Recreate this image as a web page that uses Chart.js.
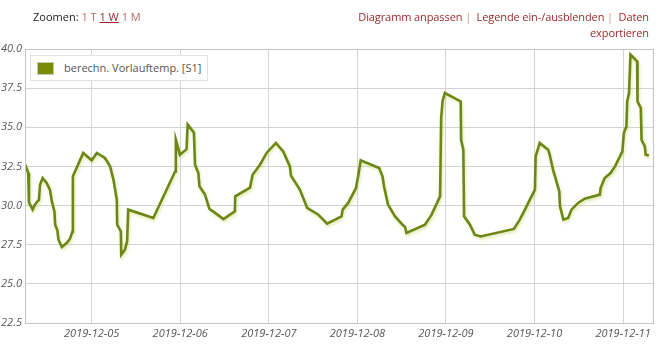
<!DOCTYPE html>
<html>
<head>
<meta charset="utf-8">
<script src="https://cdn.jsdelivr.net/npm/chart.js@4"></script>
<style>
    body { margin: 0; width: 668px; height: 347px; background: #fff; overflow: hidden;
           font-family: "Open Sans", sans-serif; font-size: 11px; }
    #wrap { position: relative; width: 668px; height: 347px; }
    #chart { position: absolute; left: 0; top: 0; }
    .zoom { position: absolute; left: 33px; top: 9px; color: #222; }
    .zoom span { color: #b06a62; }
    .zoom .active { color: #a3262c; text-decoration: underline; }
    .links { position: absolute; right: 19px; top: 9px; width: 300px; text-align: right;
             color: #9a2a2a; line-height: 16px; letter-spacing: -0.1px; }
    .links .sep { color: #c89a7a; }
    .legend { position: absolute; left: 30px; top: 55px; width: 176px; height: 24px;
              border: 1px solid #e2e2e2; background: #fff; }
    .legend .swatch { position: absolute; left: 6px; top: 6px; width: 15px; height: 11px;
                      background: #7a8c05; border: 1px solid #c9c9b0; }
    .legend .label { position: absolute; left: 33px; top: 4px; color: #555; font-size: 11px;
                     white-space: nowrap; }
</style>
</head>
<body>
<div id="wrap">
    <canvas id="chart" width="668" height="347"></canvas>
    <div class="zoom">Zoomen: <span>1 T</span> <span class="active">1 W</span> <span>1 M</span></div>
    <div class="links">Diagramm anpassen <span class="sep">|</span>&nbsp; Legende ein-/ausblenden <span class="sep">|</span>&nbsp; Daten exportieren</div>
    <div class="legend"><div class="swatch"></div><div class="label">berechn. Vorlauftemp. [S1]</div></div>
</div>
<script>
// hours since 2019-12-04 00:00
const hours = [
    5.9, 6.8, 7.0, 8.0, 8.6, 9.3, 9.7, 10.0, 10.7, 11.8, 12.7, 13.2, 13.9, 14.1, 14.7, 15.0,
    15.9, 17.2, 18.1, 18.8, 18.9, 19.9, 21.7, 24.0, 25.4, 27.6, 29.0, 29.9, 30.8, 30.9,
    31.9, 32.0, 33.0, 33.6, 33.9, 40.7, 46.6, 46.8, 47.9, 49.7, 50.0, 51.7, 52.0, 52.9,
    53.2, 54.7, 55.9, 56.9, 59.7, 62.8, 62.9, 66.9, 67.6, 69.6, 71.4, 73.9, 75.9, 77.7,
    78.0, 80.4, 82.4, 85.4, 87.8, 91.7, 92.0, 93.5, 95.6, 96.2, 96.9, 101.9, 102.8, 103.2,
    104.3, 106.2, 108.2, 108.9, 109.3, 114.3, 116.1, 118.4, 118.7, 119.1, 119.7, 124.0,
    124.1, 124.7, 124.9, 126.5, 127.8, 129.4, 138.4, 140.0, 141.4, 142.3, 144.1, 144.3,
    145.4, 147.7, 148.1, 149.0, 149.8, 150.7, 150.9, 151.8, 153.1, 154.0, 155.8, 157.6,
    161.7, 161.9, 163.0, 164.6, 165.8, 167.8, 168.2, 168.9, 169.1, 169.6, 170.0, 171.8,
    171.9, 172.8, 173.0, 173.9, 174.1, 175.0
];
const vorlauf = [
    32.65, 32.1, 30.2, 29.75, 30.05, 30.27, 30.35, 31.33, 31.76, 31.44, 31.0, 30.27, 29.63, 28.78, 28.42, 27.82,
    27.36, 27.61, 27.87, 28.35, 31.87, 32.4, 33.36, 32.89, 33.36, 33.04, 32.5, 31.65, 30.38, 28.78,
    28.35, 26.86, 27.18, 27.71, 29.74, 29.21, 32.18, 34.2, 33.25, 33.6, 35.17, 34.67, 32.61, 32.08,
    31.23, 30.7, 29.78, 29.63, 29.14, 29.63, 30.59, 31.15, 31.97, 32.61, 33.36, 34.0, 33.46, 32.5,
    31.91, 31.02, 29.85, 29.42, 28.84, 29.31, 29.74, 30.17, 31.12, 31.87, 32.89, 32.4, 31.87, 31.23,
    30.06, 29.31, 28.78, 28.63, 28.25, 28.78, 29.42, 30.59, 35.6, 36.7, 37.19, 36.65,
    34.2, 33.57, 29.31, 28.78, 28.14, 28.03, 28.51, 29.1, 29.74, 30.17, 31.02, 33.14,
    34.0, 33.57, 33.25, 32.29, 31.65, 30.91, 29.95, 29.1, 29.21, 29.74, 30.17, 30.44,
    30.7, 31.12, 31.76, 32.08, 32.5, 33.46, 34.64, 35.06, 36.65, 37.19, 39.64, 39.21,
    36.65, 36.23, 34.2, 33.78, 33.25, 33.2
];
const dayTicks = [24, 48, 72, 96, 120, 144, 168];
const dayLabels = ["2019-12-05", "2019-12-06", "2019-12-07", "2019-12-08", "2019-12-09", "2019-12-10", "2019-12-11"];

const points = hours.map((h, i) => ({ x: h, y: vorlauf[i] }));

// glow under the line and a frame round the plot
const lineShadow = {
    id: "lineShadow",
    beforeDatasetDraw(chart) {
        const ctx = chart.ctx;
        ctx.save();
        ctx.shadowColor = "rgba(190, 200, 70, 0.45)";
        ctx.shadowBlur = 3;
        ctx.shadowOffsetX = 1;
        ctx.shadowOffsetY = 2;
    },
    afterDatasetDraw(chart) {
        chart.ctx.restore();
    },
    afterDraw(chart) {
        const a = chart.chartArea;
        const ctx = chart.ctx;
        ctx.save();
        ctx.strokeStyle = "#c4c4c4";
        ctx.lineWidth = 1;
        ctx.strokeRect(Math.round(a.left) + 0.5, Math.round(a.top) + 0.5,
            Math.round(a.right - a.left), Math.round(a.bottom - a.top));
        ctx.restore();
    }
};

new Chart(document.getElementById("chart"), {
    type: "line",
    data: {
        datasets: [{
            label: "berechn. Vorlauftemp. [S1]",
            data: points,
            borderColor: "#6c8716",
            borderWidth: 2.6,
            pointRadius: 0,
            tension: 0,
            fill: false
        }]
    },
    options: {
        responsive: false,
        animation: false,
        layout: { padding: { left: 0, top: 49, right: 15, bottom: 0 } },
        plugins: { legend: { display: false }, tooltip: { enabled: false } },
        scales: {
            x: {
                type: "linear",
                min: 5.93,
                max: 176.1,
                afterFit(scale) { scale.height = 24; },
                afterBuildTicks(scale) {
                    scale.ticks = dayTicks.map(v => ({ value: v }));
                },
                ticks: {
                    padding: 4,
                    color: "#555",
                    font: { family: "Open Sans", size: 11, style: "italic" },
                    maxRotation: 0,
                    callback: (v) => dayLabels[dayTicks.indexOf(v)]
                },
                grid: { color: "#d2d2d2", drawTicks: false },
                border: { color: "#c4c4c4" }
            },
            y: {
                min: 22.5,
                max: 40,
                afterFit(scale) { scale.width = 25; },
                ticks: {
                    stepSize: 2.5,
                    padding: 3,
                    color: "#555",
                    font: { family: "Open Sans", size: 11, style: "italic" },
                    callback: (v) => v.toFixed(1)
                },
                grid: { color: "#d2d2d2", drawTicks: false },
                border: { color: "#c4c4c4" }
            }
        }
    },
    plugins: [lineShadow]
});
</script>
</body>
</html>
